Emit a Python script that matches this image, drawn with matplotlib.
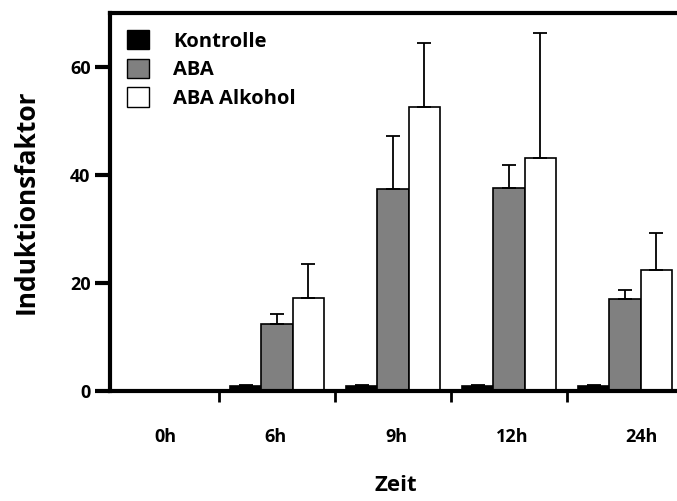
import numpy as np
import matplotlib
matplotlib.use('Agg')
from matplotlib import pyplot as plt
from matplotlib.patches import Patch

plt.rcParams['font.family'] = ['Open Sans', 'DejaVu Sans']
plt.rcParams['font.weight'] = 'bold'

# data
zeiten = ['0h', '6h', '9h', '12h', '24h']
kontrolle = [0.0, 1.0, 1.0, 1.0, 1.0]
kontrolle_err = [0.0, 0.15, 0.15, 0.15, 0.15]
aba = [0.0, 12.4, 37.4, 37.6, 17.0]
aba_err = [0.0, 1.9, 9.8, 4.3, 1.7]
aba_alk = [0.0, 17.2, 52.6, 43.1, 22.4]
aba_alk_err = [0.0, 6.3, 11.8, 23.2, 6.9]

fig = plt.figure(figsize=(6.77, 5.01), dpi=100)
ax = fig.add_axes([110/677, 1 - 391/501, (683 - 110)/677, (391 - 13)/501])

x = np.arange(len(zeiten))
w = 0.27
err_kw = dict(elinewidth=1.3, capsize=5, capthick=1.3, ecolor='black')

ax.bar(x - w, kontrolle, w, color='black', edgecolor='black', linewidth=1.2,
       yerr=[np.zeros(5), kontrolle_err], error_kw=err_kw, label='Kontrolle')
ax.bar(x, aba, w, color='#808080', edgecolor='black', linewidth=1.2,
       yerr=[np.zeros(5), aba_err], error_kw=err_kw, label='ABA')
ax.bar(x + w, aba_alk, w, color='white', edgecolor='black', linewidth=1.2,
       yerr=[np.zeros(5), aba_alk_err], error_kw=err_kw, label='ABA Alkohol')

ax.set_xlim(-0.44, 4.5)
ax.set_ylim(0, 70)

# group boundaries carry the ticks, labels sit slightly off the centres as in the source
ax.set_xticks(x + 0.5)
ax.set_xticklabels([])
ax.set_xticks([0.04, 0.99, 2.03, 3.03, 4.14], minor=True)
ax.set_xticklabels(zeiten, minor=True, fontsize=13, fontweight='bold')
ax.tick_params(axis='x', which='major', direction='out', length=8, width=2)
ax.tick_params(axis='x', which='minor', length=0, pad=27)

ax.set_yticks([0, 20, 40, 60])
ax.tick_params(axis='y', direction='out', length=11, width=3, pad=3,
               labelsize=13)
for t in ax.get_yticklabels():
    t.set_fontweight('bold')

for s in ax.spines.values():
    s.set_linewidth(3)

ax.set_xlabel('Zeit', fontsize=16, fontweight='bold')
ax.xaxis.set_label_coords((396 - 110) / (683 - 110), -0.222)
ax.set_ylabel('Induktionsfaktor', fontsize=19, fontweight='bold', labelpad=22)

handles = [Patch(facecolor='black', edgecolor='black'),
           Patch(facecolor='#808080', edgecolor='black'),
           Patch(facecolor='white', edgecolor='black')]
ax.legend(handles, ['Kontrolle', 'ABA', 'ABA Alkohol'], loc='upper left',
          frameon=False, handlelength=1.1, handleheight=1.1,
          handletextpad=1.2, labelspacing=0.35, borderaxespad=0.45,
          prop={'weight': 'bold', 'size': 14.5})

fig.savefig('out.png', dpi=100)
